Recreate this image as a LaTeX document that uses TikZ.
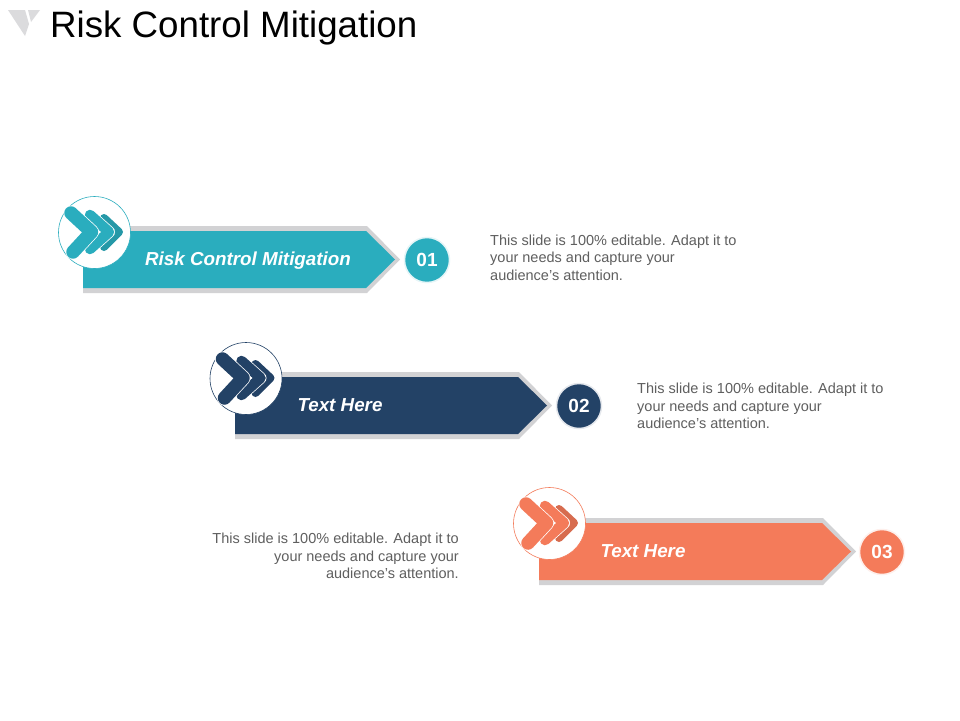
\documentclass[tikz,border=0pt]{standalone}
\usepackage{fontspec}
\setmainfont{Liberation Sans}
\usepackage{tikz}
\usetikzlibrary{arrows, shapes, positioning}
\definecolor{tealc}{HTML}{2AADBE}
\definecolor{navyc}{HTML}{234266}
\definecolor{coralc}{HTML}{F47B5A}
\definecolor{greyc}{HTML}{D2D2D4}
\definecolor{bodyc}{HTML}{5F5F5F}
\begin{document}
\begin{tikzpicture}[x=1pt,y=-1pt,
  main node/.style={circle,draw=#1,fill=white,line width=.6pt,minimum size=72pt,inner sep=0pt},
  num node/.style={circle,draw=#1!12,fill=#1,line width=1.5pt,minimum size=45pt,inner sep=0pt,
    text=white,font=\fontsize{19}{19}\selectfont\bfseries},
  band text/.style={text=white,font=\fontsize{18.8}{18.8}\selectfont\bfseries\itshape},
  body text/.style={text=bodyc,font=\fontsize{14.5}{17.5}\selectfont,inner sep=0pt},
  chev/.style={draw=#1,line cap=round,line join=round},
  chevsep/.style={draw=white,line cap=round,line join=round}]
  \useasboundingbox (0,0) rectangle (960,720);

  \fill[white] (0,0) rectangle (960,720);
  \fill[greyc!80] (8,10) -- (25,10) -- (29,24) -- (25,36) -- cycle;
  \fill[greyc!80] (28,10) -- (40,10) -- (31,22) -- cycle;
  \node[anchor=west,inner sep=0pt,font=\fontsize{36.7}{36.7}\selectfont] (title) at (50,28.5) {Risk Control Mitigation};

  % first band
  \fill[greyc] (83,226) -- (367,226) -- (400,259.5) -- (367,293) -- (83,293) -- cycle;
  \fill[tealc] (83,231) -- (366,231) -- (395,259.5) -- (366,288) -- (83,288) -- cycle;
  \node[main node=tealc] (C1) at (94.5,232.5) {};
  \draw[chev=tealc!88!black,line width=8pt] (104,218) -- (119,232) -- (104,247);
  \draw[chevsep,line width=12pt] (90,215) -- (109,232) -- (90,249);
  \draw[chev=tealc,line width=10.5pt] (90,215) -- (109,232) -- (90,249);
  \draw[chevsep,line width=15pt] (71,213) -- (91.5,232) -- (73,252);
  \draw[chev=tealc,line width=13.5pt] (71,213) -- (91.5,232) -- (73,252);
  \node[band text] (B1) at (248,261) {Risk Control Mitigation};
  \node[num node=tealc] (N1) at (427,260) {01};
  \node[body text,anchor=west,align=left] (T1) at (490,257.5) {This slide is 100\% editable. Adapt it to\\your needs and capture your\\audience's attention.};

  % second band
  \fill[greyc] (235,372) -- (519,372) -- (552,405.5) -- (519,439) -- (235,439) -- cycle;
  \fill[navyc] (235,377) -- (518,377) -- (547,405.5) -- (518,434) -- (235,434) -- cycle;
  \node[main node=navyc] (C2) at (246,378.5) {};
  \draw[chev=navyc,line width=8pt] (255.5,364) -- (270.5,378) -- (255.5,393);
  \draw[chevsep,line width=12pt] (241.5,361) -- (260.5,378) -- (241.5,395);
  \draw[chev=navyc,line width=10.5pt] (241.5,361) -- (260.5,378) -- (241.5,395);
  \draw[chevsep,line width=15pt] (222.5,359) -- (243,378) -- (224.5,398);
  \draw[chev=navyc,line width=13.5pt] (222.5,359) -- (243,378) -- (224.5,398);
  \node[band text] (B2) at (340,405.5) {Text Here};
  \node[num node=navyc] (N2) at (579,406) {02};
  \node[body text,anchor=west,align=left] (T2) at (637,406) {This slide is 100\% editable. Adapt it to\\your needs and capture your\\audience's attention.};

  % third band
  \fill[greyc] (539,518) -- (823,518) -- (856,551.5) -- (823,585) -- (539,585) -- cycle;
  \fill[coralc] (539,523) -- (822,523) -- (851,551.5) -- (822,580) -- (539,580) -- cycle;
  \node[main node=coralc] (C3) at (549.5,523.5) {};
  \draw[chev=coralc!88!black,line width=8pt] (559,509) -- (574,523) -- (559,538);
  \draw[chevsep,line width=12pt] (545,506) -- (564,523) -- (545,540);
  \draw[chev=coralc,line width=10.5pt] (545,506) -- (564,523) -- (545,540);
  \draw[chevsep,line width=15pt] (526,504) -- (546.5,523) -- (528,543);
  \draw[chev=coralc,line width=13.5pt] (526,504) -- (546.5,523) -- (528,543);
  \node[band text] (B3) at (643,551.5) {Text Here};
  \node[num node=coralc] (N3) at (882,552) {03};
  \node[body text,anchor=east,align=right] (T3) at (459,556) {This slide is 100\% editable. Adapt it to\\your needs and capture your\\audience's attention.};
\end{tikzpicture}
\end{document}
